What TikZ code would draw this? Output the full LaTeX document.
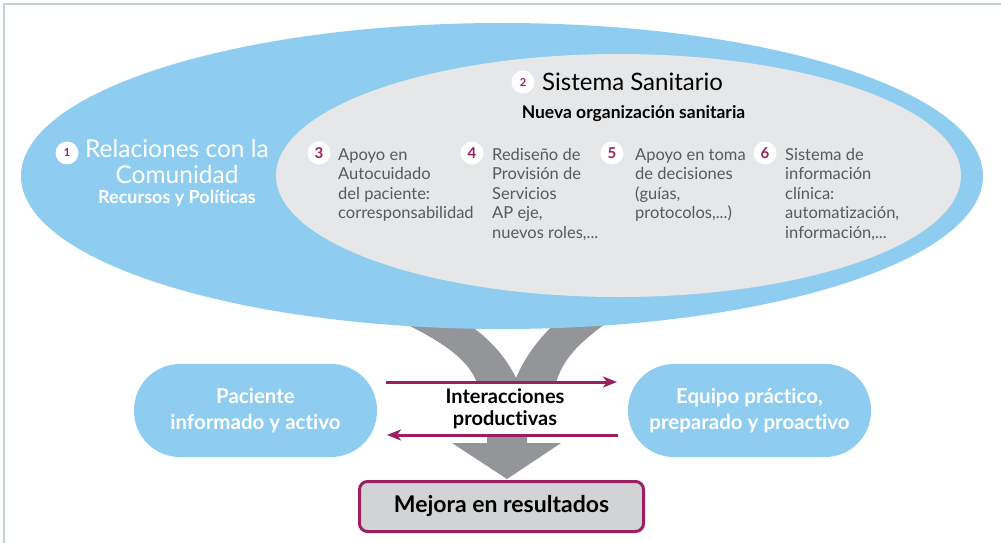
\documentclass[tikz,border=0pt]{standalone}
\usepackage{fontspec}
\setmainfont{Lato}[Ligatures=NoCommon]
\usetikzlibrary{arrows.meta}
\definecolor{skyb}{HTML}{8FCDF0}
\definecolor{lgray}{HTML}{E6E7E8}
\definecolor{band}{HTML}{939598}
\definecolor{mag}{HTML}{9B1F61}
\definecolor{txtg}{HTML}{58595B}
\definecolor{framec}{HTML}{C3D2D6}
\definecolor{boxg}{HTML}{D1D3D4}
\tikzset{
  numsmall/.style={circle, fill=white, inner sep=0pt, minimum size=23pt, text=mag, font=\bfseries\fontsize{11}{11}\selectfont},
  numbig/.style={circle, fill=white, inner sep=0pt, minimum size=23pt, text=mag, font=\bfseries\fontsize{15}{15}\selectfont},
  itemtxt/.style={anchor=north west, inner sep=0pt, align=left, text=txtg, font=\fontsize{16.5}{19.5}\selectfont},
  pill/.style={rounded corners=46pt, fill=skyb, minimum width=243pt, minimum height=93pt, inner sep=0pt, align=center, text=white, font=\bfseries\fontsize{20.5}{26}\selectfont},
  resbox/.style={rounded corners=8pt, draw=mag, line width=3pt, fill=boxg, minimum width=284pt, minimum height=50pt, inner sep=0pt, font=\bfseries\fontsize{23}{23}\selectfont},
  interarrow/.style={mag, line width=3pt, -{Stealth[length=14pt, width=11pt, inset=4pt]}},
  whitetxt/.style={anchor=base, inner sep=0pt, text=white},
  blacktxt/.style={anchor=base, inner sep=0pt, text=black}
}
\begin{document}
\begin{tikzpicture}[x=1pt, y=-1pt]
\useasboundingbox (0,0) rectangle (1001,543);
\fill[white] (0,0) rectangle (1001,543);
\draw[framec, line width=2.2pt] (4,543) -- (4,4) -- (1001,4);

% gray bands
\fill[band] (355,300) .. controls (420,330) and (465,350) .. (477,383) -- (516,383) -- (516,378) .. controls (500,345) and (470,320) .. (425,300) -- cycle;
\fill[band] (640,300) .. controls (595,330) and (565,350) .. (556,383) -- (516,383) -- (516,378) .. controls (530,345) and (555,320) .. (585,300) -- cycle;
\fill[band] (487,436) -- (527,436) -- (527,443) -- (561,443) -- (507,479) -- (452,443) -- (487,443) -- cycle;

% ellipses
\fill[skyb] (502,176) ellipse [x radius=481, y radius=153];
\fill[lgray] (618.5,175.5) ellipse [x radius=342.5, y radius=121.5];

% community
\node[numsmall] (n1) at (67,153) {1};
\node[whitetxt, font=\fontsize{24.5}{24.5}\selectfont] (rel1) at (177,157) {Relaciones con la};
\node[whitetxt, font=\fontsize{24.5}{24.5}\selectfont] (rel2) at (177,183) {Comunidad};
\node[whitetxt, font=\bfseries\fontsize{18}{18}\selectfont] (rel3) at (177,203) {Recursos y Políticas};

% health system
\node[numsmall] (n2) at (523,82) {2};
\node[blacktxt, font=\fontsize{24}{24}\selectfont] (sis1) at (632.5,90) {Sistema Sanitario};
\node[blacktxt, font=\bfseries\fontsize{17.5}{17.5}\selectfont] (sis2) at (633.5,118) {Nueva organización sanitaria};

\node[numbig] (n3) at (319,153) {3};
\node[itemtxt] (t3) at (338,148) {Apoyo en\\Autocuidado\\del paciente:\\corresponsabilidad};
\node[numbig] (n4) at (472,153) {4};
\node[itemtxt] (t4) at (492,148) {Rediseño de\\Provisión de\\Servicios\\AP eje,\\nuevos roles,...};
\node[numbig] (n5) at (612,153) {5};
\node[itemtxt] (t5) at (635,148) {Apoyo en toma\\de decisiones\\(guías,\\protocolos,...)};
\node[numbig] (n6) at (765,153) {6};
\node[itemtxt] (t6) at (785,148) {Sistema de\\información\\clínica:\\automatización,\\información,...};

% pills
\node[pill] (pac) at (255.5,410.5) {Paciente\\informado y activo};
\node[pill] (equ) at (749.5,410.5) {Equipo práctico,\\preparado y proactivo};

% interactions
\coordinate (a1s) at (386,382);
\coordinate (a1e) at (617,382);
\coordinate (a2s) at (618,435);
\coordinate (a2e) at (387,435);
\draw[interarrow] (a1s) -- (a1e);
\draw[interarrow] (a2s) -- (a2e);
\node[blacktxt, font=\bfseries\fontsize{20}{20}\selectfont] (int1) at (505,403) {Interacciones};
\node[blacktxt, font=\bfseries\fontsize{20}{20}\selectfont] (int2) at (505,425) {productivas};

% result
\node[resbox] (res) at (501.5,506.5) {Mejora en resultados};
\end{tikzpicture}
\end{document}
